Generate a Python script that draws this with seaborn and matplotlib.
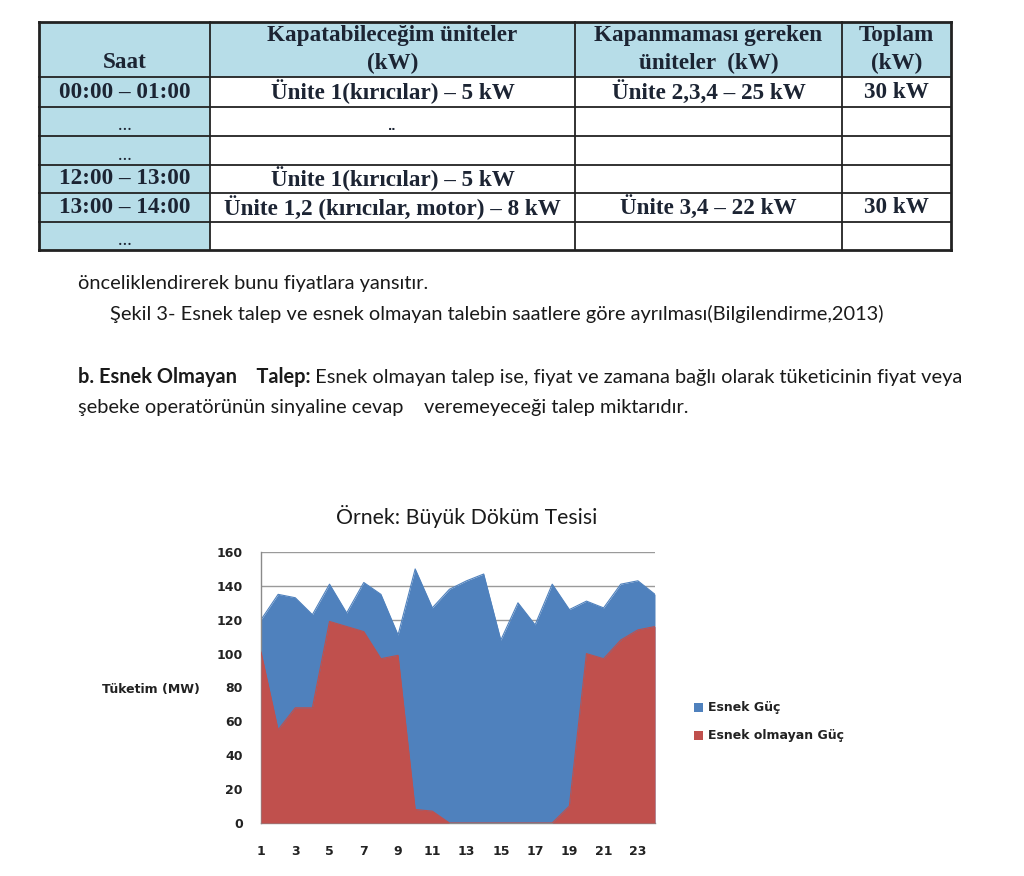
import matplotlib
matplotlib.use("Agg")
import matplotlib.pyplot as plt
from matplotlib.patches import Rectangle, Patch
import seaborn as sns
import pandas as pd

# ---------------- data ----------------
hours = list(range(1, 25))
esnek_olmayan = [101, 55, 68, 68, 119, 116, 113, 97, 99, 8, 7, 0,
                 0, 0, 0, 0, 0, 0, 10, 100, 97, 108, 114, 116]
esnek = [19, 80, 65, 55, 22, 8, 29, 38, 12, 142, 120, 138,
         143, 147, 108, 130, 117, 141, 116, 31, 30, 33, 29, 19]
series_names = ["Esnek Güç", "Esnek olmayan Güç"]
y_ticks = [0, 20, 40, 60, 80, 100, 120, 140, 160]
x_tick_labels = [1, 3, 5, 7, 9, 11, 13, 15, 17, 19, 21, 23]
chart_title = "Örnek: Büyük Döküm Tesisi"
y_label = "Tüketim (MW)"

table_header_line1 = ["", "Kapatabileceğim üniteler", "Kapanmaması gereken", "Toplam"]
table_header_line2 = ["Saat", "(kW)", "üniteler  (kW)", "(kW)"]
table_rows = [
    ["00:00 – 01:00", "Ünite 1(kırıcılar) – 5 kW", "Ünite 2,3,4 – 25 kW", "30 kW"],
    ["…", "..", "", ""],
    ["…", "", "", ""],
    ["12:00 – 13:00", "Ünite 1(kırıcılar) – 5 kW", "", ""],
    ["13:00 – 14:00", "Ünite 1,2 (kırıcılar, motor) – 8 kW", "Ünite 3,4 – 22 kW", "30 kW"],
    ["…", "", "", ""],
]

body_line1 = "önceliklendirerek bunu fiyatlara yansıtır."
body_line2 = "Şekil 3- Esnek talep ve esnek olmayan talebin saatlere göre ayrılması(Bilgilendirme,2013)"
body_line3_bold = "b. Esnek Olmayan    Talep:"
body_line3_rest = " Esnek olmayan talep ise, fiyat ve zamana bağlı olarak tüketicinin fiyat veya"
body_line4 = "şebeke operatörünün sinyaline cevap    veremeyeceği talep miktarıdır."

# ---------------- figure ----------------
sns.set_theme(style="white")
plt.rcParams["font.family"] = ["DejaVu Sans"]
W, H = 1024, 876
fig = plt.figure(figsize=(W / 100, H / 100), dpi=100)
fig.patch.set_facecolor("white")

ov = fig.add_axes([0, 0, 1, 1])
ov.set_xlim(0, W)
ov.set_ylim(H, 0)
ov.axis("off")
ov.patch.set_alpha(0)

# ---- table ----
col_x = [39, 210, 575, 842, 951]
row_y = [22, 77, 107, 136, 165, 193, 222, 250]
hdr_bg = "#b7dde8"
txt_col = "#1c2433"
tfont = dict(family="Liberation Serif", weight="bold", fontsize=16.7, color=txt_col)

ov.add_patch(Rectangle((col_x[0], row_y[0]), col_x[-1] - col_x[0], row_y[1] - row_y[0],
                       facecolor=hdr_bg, edgecolor="none"))
ov.add_patch(Rectangle((col_x[0], row_y[1]), col_x[1] - col_x[0], row_y[-1] - row_y[1],
                       facecolor=hdr_bg, edgecolor="none"))
for yv in row_y:
    lw = 2.0 if yv in (row_y[0], row_y[-1]) else 1.3
    ov.plot([col_x[0], col_x[-1]], [yv, yv], color="#222222", lw=lw, solid_capstyle="projecting")
for i, xv in enumerate(col_x):
    lw = 2.0 if i in (0, len(col_x) - 1) else 1.3
    ov.plot([xv, xv], [row_y[0], row_y[-1]], color="#222222", lw=lw, solid_capstyle="projecting")

for c in range(4):
    cx = (col_x[c] + col_x[c + 1]) / 2
    if table_header_line1[c]:
        ov.text(cx, 36, table_header_line1[c], ha="center", va="center", **tfont)
    ov.text(cx, 63, table_header_line2[c], ha="center", va="center", **tfont)

for r, row in enumerate(table_rows):
    cy = (row_y[r + 1] + row_y[r + 2]) / 2
    for c, t in enumerate(row):
        if not t:
            continue
        cx = (col_x[c] + col_x[c + 1]) / 2
        if t == "…":
            ov.text(cx, cy + 9, t, ha="center", va="baseline",
                    family="Liberation Serif", weight="bold", fontsize=10, color=txt_col)
        elif t == "..":
            ov.text(cx, cy + 8, t, ha="center", va="baseline",
                    family="DejaVu Sans", weight="bold", fontsize=8, color=txt_col)
        else:
            ov.text(cx, cy, t, ha="center", va="center", **tfont)

# ---- body text ----
bfont = dict(family="Lato", fontsize=14.4, color="#1a1a1a", va="center", ha="left")
ov.text(78, 283, body_line1, **bfont)
ov.text(110, 314, body_line2, **bfont)
tb = ov.text(78, 377, body_line3_bold, weight="bold", **bfont)
fig.canvas.draw()
r = fig.canvas.get_renderer()
bb = tb.get_window_extent(renderer=r)
ov.text(78 + bb.width, 377, body_line3_rest, **bfont)
ov.text(78, 408, body_line4, **bfont)

# ---- chart ----
blue = "#4f81bd"
red = "#c0504d"
ax = fig.add_axes([261 / W, 1 - 823 / H, 394 / W, 271 / H])
df = pd.DataFrame({"saat": hours, "olmayan": esnek_olmayan, "esnek": esnek})
df["toplam"] = df["olmayan"] + df["esnek"]

ax.fill_between(df["saat"], 0, df["toplam"], color=blue, lw=0, zorder=2)
ax.fill_between(df["saat"], 0, df["olmayan"], color=red, lw=0, zorder=3)
sns.lineplot(data=df, x="saat", y="toplam", ax=ax, color=blue, lw=0.8, zorder=2)
sns.lineplot(data=df, x="saat", y="olmayan", ax=ax, color=red, lw=0.8, zorder=3)

ax.set_xlim(1, 24)
ax.set_ylim(0, 160)
ax.set_yticks(y_ticks)
ax.set_yticklabels([str(v) for v in y_ticks])
ax.set_xticks(hours)
ax.set_xticklabels([str(h) if h in x_tick_labels else "" for h in hours])
ax.yaxis.grid(True, color="#9a9a9a", lw=1.0, zorder=0)
ax.set_axisbelow(True)
for s in ("top", "right"):
    ax.spines[s].set_visible(False)
for s in ("left", "bottom"):
    ax.spines[s].set_color("#8a8a8a")
    ax.spines[s].set_linewidth(1.0)
ax.tick_params(axis="both", which="both", direction="out", length=4, width=1,
               color="#8a8a8a", labelsize=9, labelcolor="#222222")
ax.tick_params(axis="x", pad=12)
ax.tick_params(axis="y", pad=9)
for lab in ax.get_xticklabels() + ax.get_yticklabels():
    lab.set_fontweight("bold")
ax.set_xlabel("")
ax.set_ylabel(y_label, rotation=0, ha="right", va="center", fontsize=9,
              fontweight="bold", color="#222222")
ax.yaxis.set_label_coords((200 - 261) / 394, (823 - 689) / 271)

ov.text(467, 517, chart_title, ha="center", va="center", family="Lato",
        fontsize=15.3, color="#1a1a1a")

handles = [Patch(facecolor=blue, edgecolor="none"), Patch(facecolor=red, edgecolor="none")]
fig.legend(handles, series_names, loc="center left", bbox_to_anchor=(683 / W, 1 - 722 / H),
           frameon=False, handlelength=0.7, handleheight=0.7, handletextpad=0.4,
           labelspacing=1.2, prop=dict(family="DejaVu Sans", weight="bold", size=9),
           labelcolor="#222222")

fig.savefig("out.png", dpi=100, facecolor="white")
